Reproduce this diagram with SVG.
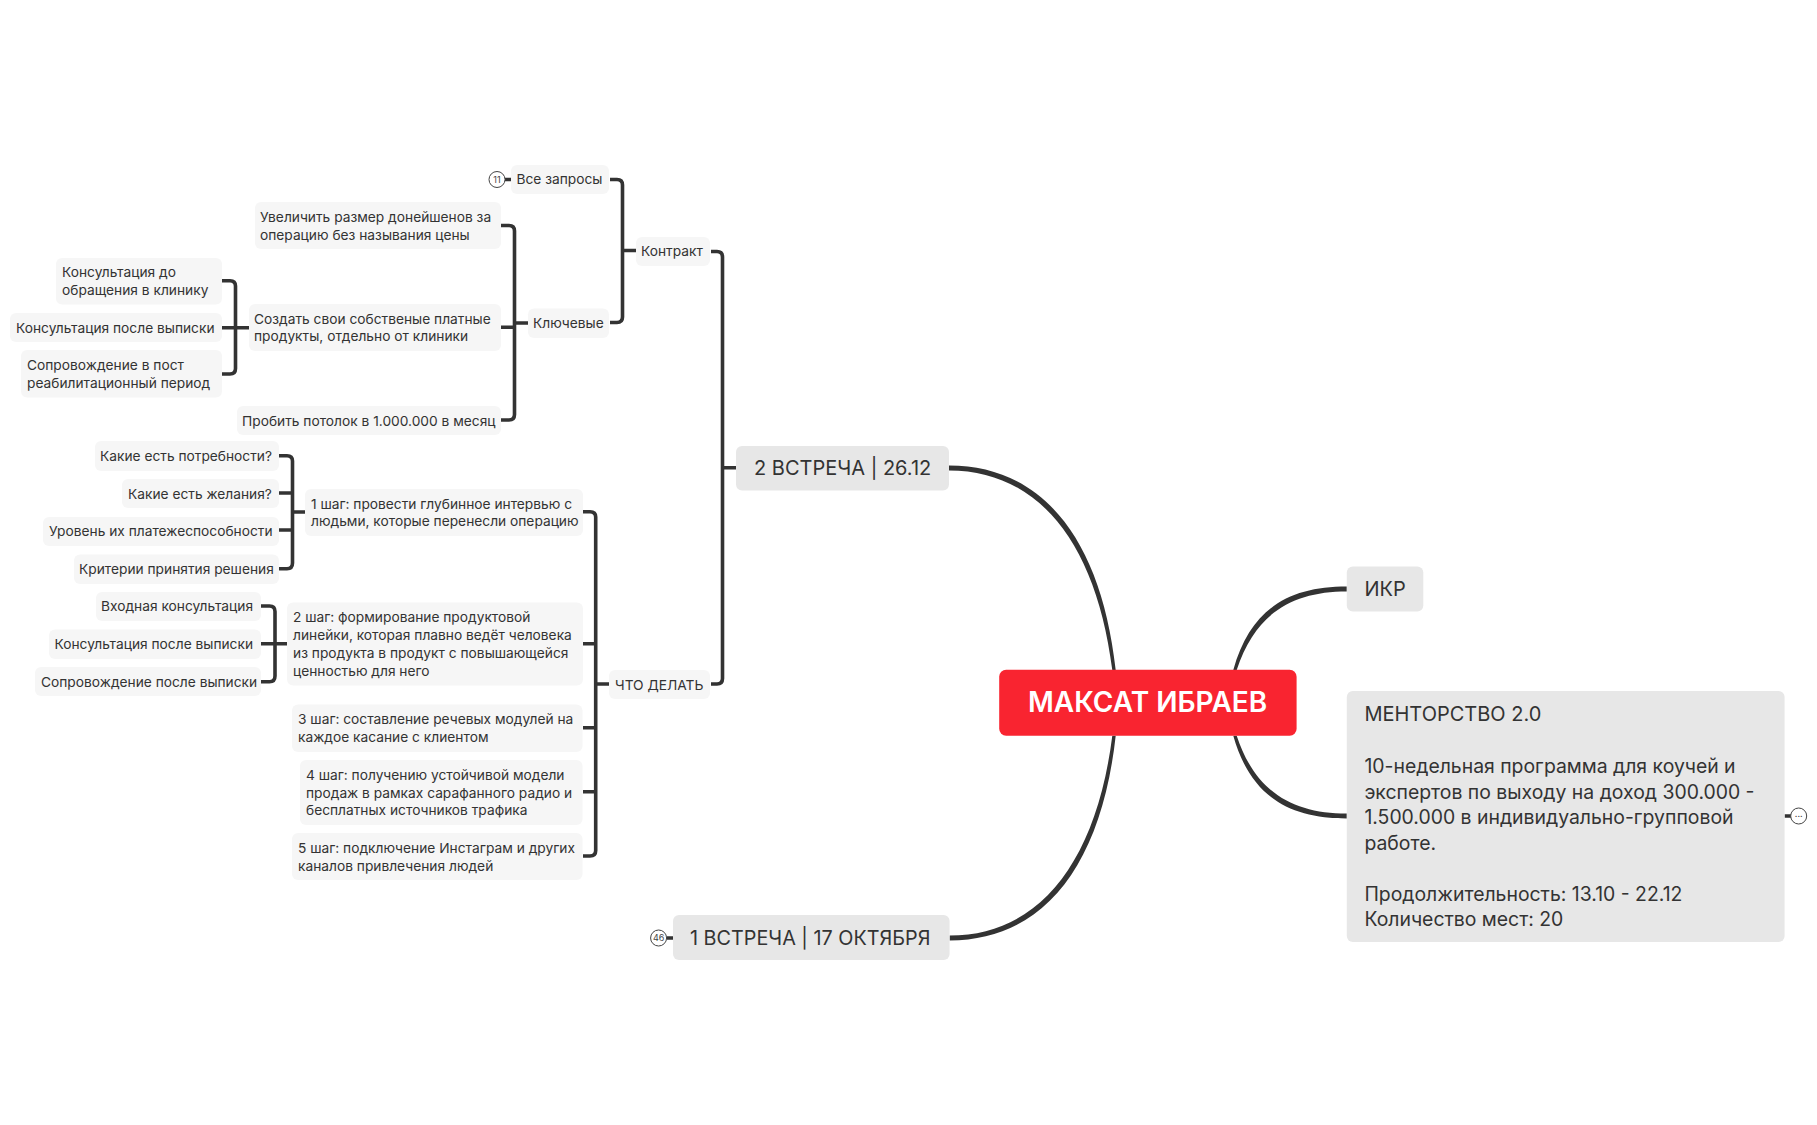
<svg xmlns="http://www.w3.org/2000/svg" width="1817" height="1125" viewBox="0 0 1817 1125">
<style>
text{font-family:Inter,"Noto Sans",sans-serif;fill:#333;letter-spacing:0}
.s rect{fill:#f6f6f6}
.s text{font-size:13.75px}
.m rect{fill:#e7e7e7}
.m text{font-size:20px}
.m .l{font-size:19.4px}
.c{fill:none;stroke:#333;stroke-width:3.6;stroke-linecap:butt}
.t{fill:#333;stroke:none}
.b{fill:#fff;stroke:#444;stroke-width:1}
.bt{font-size:9px;fill:#444;text-anchor:middle}
</style>
<rect width="1817" height="1125" fill="#fff"/>
<g id="connectors">
<path class="t" d="M949,465.6C1042,465.6 1101,538 1115.7,670H1112.3C1096,542 1038,470.4 949,470.4Z"/>
<path class="t" d="M949.6,940.4C1042,940.4 1101,868 1115.7,735.7H1112.3C1096,864 1038,935.6 949.6,935.6Z"/>
<path class="t" d="M1346.8,586.6C1290,586.6 1250.5,608 1233.3,670H1236.7C1255.5,612 1294,591.4 1346.8,591.4Z"/>
<path class="t" d="M1346.8,818.4C1290,818.4 1250.5,797 1233.3,735.7H1236.7C1255.5,793 1294,813.6 1346.8,813.6Z"/>
<path class="c" d="M610,179.5H617Q622.5,179.5 622.5,185V317Q622.5,322.5 617,322.5H610M622.5,250.5H636"/>
<path class="c" d="M501,225.5H509Q514.5,225.5 514.5,231V414.5Q514.5,420 509,420H501M501,327.3H514.5M514.5,323H528"/>
<path class="c" d="M222,280.7H230Q235.5,280.7 235.5,286V368.5Q235.5,374 230,374H222M222,327.7H249"/>
<path class="c" d="M711,251.5H717Q722.5,251.5 722.5,257V678.5Q722.5,684 717,684H711M722.5,467.7H736"/>
<path class="c" d="M279,455.7H287Q292.5,455.7 292.5,461V563Q292.5,568.7 287,568.7H279M279,493H292.5M279,530H292.5M292.5,512H305"/>
<path class="c" d="M583,511.7H590Q595.7,511.7 595.7,517V850.5Q595.7,856 590,856H583M583,643.7H595.7M583,727.7H595.7M583,791.7H595.7M595.7,684H609"/>
<path class="c" d="M261,606H269.5Q275,606 275,611.5V676Q275,681.7 269.5,681.7H261M261,643.7H287"/>
<path class="c" d="M505,179.5H511M667,938H673M1784.6,816H1791"/>
</g>
<g id="root"><rect x="999.2" y="669.7" width="297.4" height="66" rx="7" fill="#f92430"/><text x="1028" y="712" style="font-size:28px;font-weight:600;fill:#fff">МАКСАТ ИБРАЕВ</text></g>
<g id="n-ikr" class="m"><rect x="1346.8" y="566.5" width="76.5" height="45" rx="6"/><text x="1364.4" y="596">ИКР</text></g>
<g id="n-mentor" class="m"><rect x="1346.8" y="691" width="437.8" height="251" rx="6"/>
<text x="1364.4" y="721">МЕНТОРСТВО 2.0</text>
<text class="l" x="1364.4" y="772.5">10-недельная программа для коучей и</text>
<text class="l" x="1364.4" y="798.5">экспертов по выходу на доход 300.000 -</text>
<text class="l" x="1364.4" y="824">1.500.000 в индивидуально-групповой</text>
<text class="l" x="1364.4" y="849.5">работе.</text>
<text class="l" x="1364.4" y="901">Продолжительность: 13.10 - 22.12</text>
<text class="l" x="1364.4" y="926">Количество мест: 20</text></g>
<g id="n-more"><circle class="b" cx="1798.7" cy="816" r="8"/><text class="bt" x="1798.7" y="817">...</text></g>
<g id="n-m2" class="m"><rect x="736" y="446" width="213" height="44.5" rx="6"/><text x="754" y="475">2 ВСТРЕЧА | 26.12</text></g>
<g id="n-m1" class="m"><rect x="673" y="915" width="276.6" height="45" rx="6"/><text x="690" y="945" style="font-size:19.8px">1 ВСТРЕЧА | 17 ОКТЯБРЯ</text></g>
<g id="n-b46"><circle class="b" cx="658.6" cy="938" r="8"/><text class="bt" x="658.6" y="941">46</text></g>
<g id="n-b11"><circle class="b" cx="497" cy="179.5" r="8"/><text class="bt" x="497" y="182.5">11</text></g>
<g id="n1" class="s"><rect x="511" y="165" width="98" height="29" rx="6"/><text x="516.5" y="184">Все запросы</text></g>
<g id="n2" class="s"><rect x="636" y="237" width="74" height="29" rx="6"/><text x="641" y="256">Контракт</text></g>
<g id="n3" class="s"><rect x="528" y="308.5" width="81" height="29.5" rx="6"/><text x="533" y="328">Ключевые</text></g>
<g id="n4" class="s"><rect x="255" y="202" width="246" height="47" rx="6"/><text x="260" y="222">Увеличить размер донейшенов за</text><text x="260" y="240">операцию без называния цены</text></g>
<g id="n5" class="s"><rect x="249" y="304" width="252" height="47" rx="6"/><text x="254" y="324">Создать свои собственые платные</text><text x="254" y="341">продукты, отдельно от клиники</text></g>
<g id="n6" class="s"><rect x="237" y="406" width="264" height="29" rx="6"/><text x="242" y="426">Пробить потолок в 1.000.000 в месяц</text></g>
<g id="n7" class="s"><rect x="56" y="258" width="166" height="46.5" rx="6"/><text x="62" y="277">Консультация до</text><text x="62" y="295">обращения в клинику</text></g>
<g id="n8" class="s"><rect x="10" y="313" width="212" height="29" rx="6"/><text x="16" y="333">Консультация после выписки</text></g>
<g id="n9" class="s"><rect x="21" y="350" width="201" height="47.5" rx="6"/><text x="27" y="370">Сопровождение в пост</text><text x="27" y="388">реабилитационный период</text></g>
<g id="n10" class="s"><rect x="95" y="441" width="184" height="30" rx="6"/><text x="100" y="461">Какие есть потребности?</text></g>
<g id="n11" class="s"><rect x="122" y="479" width="157" height="29" rx="6"/><text x="128" y="499">Какие есть желания?</text></g>
<g id="n12" class="s"><rect x="43" y="517" width="236" height="29" rx="6"/><text x="49" y="536">Уровень их платежеспособности</text></g>
<g id="n13" class="s"><rect x="74" y="554.5" width="205" height="29.5" rx="6"/><text x="79" y="574">Критерии принятия решения</text></g>
<g id="n14" class="s"><rect x="305" y="489" width="278" height="47" rx="6"/><text x="311" y="509">1 шаг: провести глубинное интервью с</text><text x="311" y="526">людьми, которые перенесли операцию</text></g>
<g id="n15" class="s"><rect x="96" y="592" width="165" height="29" rx="6"/><text x="101" y="611">Входная консультация</text></g>
<g id="n16" class="s"><rect x="49" y="629.5" width="212" height="29.5" rx="6"/><text x="54.5" y="649">Консультация после выписки</text></g>
<g id="n17" class="s"><rect x="35" y="667" width="226" height="29" rx="6"/><text x="41" y="687">Сопровождение после выписки</text></g>
<g id="n18" class="s"><rect x="287" y="602.5" width="296" height="83" rx="6"/><text x="293" y="622">2 шаг: формирование продуктовой</text><text x="293" y="640">линейки, которая плавно ведёт человека</text><text x="293" y="658">из продукта в продукт с повышающейся</text><text x="293" y="676">ценностью для него</text></g>
<g id="n19" class="s"><rect x="609" y="670" width="101" height="29" rx="6"/><text x="615" y="690">ЧТО ДЕЛАТЬ</text></g>
<g id="n20" class="s"><rect x="292" y="704.5" width="290.5" height="47.5" rx="6"/><text x="298" y="724">3 шаг: составление речевых модулей на</text><text x="298" y="742">каждое касание с клиентом</text></g>
<g id="n21" class="s"><rect x="300" y="760" width="282.5" height="65" rx="6"/><text x="306" y="780">4 шаг: получению устойчивой модели</text><text x="306" y="797.5">продаж в рамках сарафанного радио и</text><text x="306" y="815">бесплатных источников трафика</text></g>
<g id="n22" class="s"><rect x="292" y="833" width="290.5" height="47" rx="6"/><text x="298" y="853">5 шаг: подключение Инстаграм и других</text><text x="298" y="871">каналов привлечения людей</text></g>
</svg>
